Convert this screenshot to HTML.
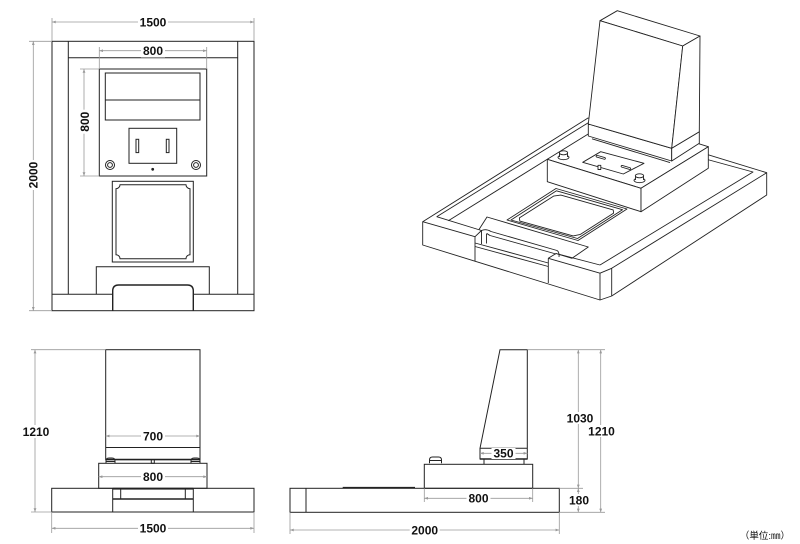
<!DOCTYPE html>
<html><head><meta charset="utf-8">
<style>
html,body{margin:0;padding:0;background:#fff;}
svg{display:block;}
text{font-family:"Liberation Sans",Arial,sans-serif;font-weight:bold;font-size:12px;fill:#111;}
.u{font-family:"Liberation Sans","Noto Sans CJK JP",sans-serif;font-weight:normal;font-size:9.5px;}
</style></head><body>
<svg width="800" height="544" viewBox="0 0 800 544" xmlns="http://www.w3.org/2000/svg">
<defs>
<marker id="a" viewBox="0 0 8 6" refX="8" refY="3" markerWidth="5" markerHeight="3.5" orient="auto-start-reverse"><path d="M0,0 L8,3 L0,6 z" fill="#999"/></marker>
</defs>
<rect width="800" height="544" fill="#fff"/>

<!-- ============ PLAN VIEW ============ -->
<g fill="none" stroke="#222" stroke-width="1">
<rect x="52" y="41.3" width="202" height="269.4"/>
<path d="M68.3,41.3V294.3 M237.7,41.3V294.3 M68.3,57.7H237.7 M52,294.3H112.7 M193.3,294.3H254 M96.3,294.3V266.7H209.3V294.3"/>
<path d="M112.7,310.7V291Q112.7,285 118.7,285H187.3Q193.3,285 193.3,291V310.7" stroke-width="1.4"/>
<rect x="99.3" y="69" width="107.4" height="107"/>
<rect x="105.3" y="73" width="94.7" height="47"/>
<path d="M105.3,100H200"/>
<rect x="129" y="128.3" width="47.7" height="35"/>
<rect x="136" y="139.3" width="2.7" height="13.3"/>
<rect x="166.3" y="139.3" width="2.7" height="13.3"/>
<circle cx="110" cy="165" r="4.5"/><circle cx="110" cy="165" r="2.4"/>
<circle cx="196" cy="165" r="4.5"/><circle cx="196" cy="165" r="2.4"/>
<rect x="112.3" y="181.3" width="81" height="80.7"/>
<path d="M120,184.7H186A4,4 0 0 0 190,188.7V254.7A4,4 0 0 0 186,258.7H120A4,4 0 0 0 116,254.7V188.7A4,4 0 0 0 120,184.7Z"/>
</g>
<circle cx="152.7" cy="169.3" r="1.4" fill="#222"/>

<!-- plan dims -->
<g fill="none" stroke="#9a9a9a" stroke-width="0.8">
<path d="M52,18V41 M254,18V41 M99.3,47V69 M206.7,47V69 M80,69H99.3 M80,176H99.3 M29,41.3H52 M29,310.7H52"/>
<line x1="52" y1="22" x2="254" y2="22" marker-start="url(#a)" marker-end="url(#a)"/>
<line x1="99.3" y1="50.7" x2="206.7" y2="50.7" marker-start="url(#a)" marker-end="url(#a)"/>
<line x1="84" y1="69" x2="84" y2="176" marker-start="url(#a)" marker-end="url(#a)"/>
<line x1="33.3" y1="41.3" x2="33.3" y2="310.7" marker-start="url(#a)" marker-end="url(#a)"/>
</g>
<rect x="138" y="15.5" width="30" height="13" fill="#fff"/><text x="153" y="26.3" text-anchor="middle">1500</text>
<rect x="141" y="44.5" width="24" height="13" fill="#fff"/><text x="153" y="55" text-anchor="middle">800</text>
<g transform="translate(84.5,121.7) rotate(-90)"><rect x="-12" y="-6" width="24" height="12" fill="#fff"/><text x="0" y="4.3" text-anchor="middle">800</text></g>
<g transform="translate(33.3,175) rotate(-90)"><rect x="-15" y="-6" width="30" height="12" fill="#fff"/><text x="0" y="4.3" text-anchor="middle">2000</text></g>

<!-- ============ FRONT VIEW ============ -->
<g fill="none" stroke="#222" stroke-width="1">
<rect x="105.7" y="349.7" width="94.3" height="110"/>
<path d="M105.7,447.5H200"/>
<path d="M105.7,459.5H200" stroke-width="1.6"/>
<rect x="98.7" y="463.3" width="108.3" height="25"/>
<rect x="51.7" y="488.3" width="202.3" height="23.7"/>
<path d="M112.7,488.3V512 M193.3,488.3V512 M120.7,488.3V499 M185.3,488.3V499"/>
<path d="M112.7,499H193.3" stroke-width="1.5"/>
<path d="M106,463.3V461Q106,458 109,458H112Q115,458 115,461V463.3 M105.5,461.5H115.5"/>
<path d="M191,463.3V461Q191,458 194,458H197Q200,458 200,461V463.3 M190.5,461.5H200.5"/>
<rect x="151.3" y="459.5" width="3" height="3.8"/>
</g>
<rect x="112.7" y="487.8" width="80.6" height="1.8" fill="#222"/>

<g fill="none" stroke="#9a9a9a" stroke-width="0.8">
<path d="M31,349.7H105.7 M31,512H51.7 M51.7,512V533 M254,512V533"/>
<line x1="35" y1="349.7" x2="35" y2="512" marker-start="url(#a)" marker-end="url(#a)"/>
<line x1="105.7" y1="436" x2="200" y2="436" marker-start="url(#a)" marker-end="url(#a)"/>
<line x1="98.7" y1="476.7" x2="207" y2="476.7" marker-start="url(#a)" marker-end="url(#a)"/>
<line x1="51.7" y1="528.3" x2="254" y2="528.3" marker-start="url(#a)" marker-end="url(#a)"/>
</g>
<rect x="21" y="425" width="30" height="13" fill="#fff"/><text x="36" y="436" text-anchor="middle">1210</text>
<rect x="141" y="430" width="24" height="12" fill="#fff"/><text x="153" y="440.3" text-anchor="middle">700</text>
<rect x="141" y="470.5" width="24" height="12" fill="#fff"/><text x="153" y="481" text-anchor="middle">800</text>
<rect x="138" y="522" width="30" height="12" fill="#fff"/><text x="153" y="532.6" text-anchor="middle">1500</text>

<!-- ============ SIDE VIEW ============ -->
<g fill="none" stroke="#222" stroke-width="1">
<rect x="290" y="488.3" width="269.3" height="24"/>
<path d="M306,488.3V512.3"/>
<path d="M342.7,487.6H415" stroke-width="1.4"/>
<rect x="424.3" y="464.3" width="108.4" height="24"/>
<path d="M500,349.7H527.3V459H480V448.3L500,349.7Z"/>
<path d="M480,448.3H527.3"/>
<path d="M480,459H527.3" stroke-width="1.5"/>
<path d="M484,459V464.3 M524,459V464.3"/>
<path d="M429.5,463.3V460Q429.5,457 432.5,457H438.5Q441.5,457 441.5,460V463.3 M429,460.5H442"/>
</g>
<g fill="none" stroke="#9a9a9a" stroke-width="0.8">
<path d="M527.3,349.7H605 M559.3,488.3H583 M559.3,512.3H605 M424.3,488.3V502 M532.7,488.3V502 M290,512.3V534 M559.3,512.3V534"/>
<line x1="480" y1="453.3" x2="527.3" y2="453.3" marker-start="url(#a)" marker-end="url(#a)"/>
<line x1="424.3" y1="498.3" x2="532.7" y2="498.3" marker-start="url(#a)" marker-end="url(#a)"/>
<line x1="290" y1="530" x2="559.3" y2="530" marker-start="url(#a)" marker-end="url(#a)"/>
<line x1="578.3" y1="349.7" x2="578.3" y2="488.3" marker-start="url(#a)" marker-end="url(#a)"/>
<line x1="578.3" y1="488.3" x2="578.3" y2="512.3" marker-start="url(#a)" marker-end="url(#a)"/>
<line x1="600.7" y1="349.7" x2="600.7" y2="512.3" marker-start="url(#a)" marker-end="url(#a)"/>
</g>
<rect x="491.5" y="448" width="24" height="11" fill="#fff"/><text x="503.5" y="457.6" text-anchor="middle">350</text>
<rect x="466.5" y="492.5" width="24" height="12" fill="#fff"/><text x="478.5" y="502.6" text-anchor="middle">800</text>
<rect x="409.7" y="524" width="30" height="12" fill="#fff"/><text x="424.7" y="534.3" text-anchor="middle">2000</text>
<rect x="566" y="412" width="28" height="12" fill="#fff"/><text x="580" y="422.6" text-anchor="middle">1030</text>
<rect x="587" y="425" width="29" height="12" fill="#fff"/><text x="601.5" y="435.5" text-anchor="middle">1210</text>
<rect x="567" y="494" width="24" height="12" fill="#fff"/><text x="579" y="504.3" text-anchor="middle">180</text>

<text class="u" x="765" y="539" text-anchor="middle">（単位:㎜）</text>

<!-- ============ ISOMETRIC VIEW ============ -->
<g fill="none" stroke="#222" stroke-width="0.9" stroke-linejoin="round">
<!-- slab outline -->
<path d="M422.7,221.7L588,118L766.7,172.7V195L611.7,296L600,300L422.7,245Z" fill="#fff"/>
<!-- left rail -->
<path d="M436.7,216.7L588.3,122.7"/>
<path d="M448.3,220.7L547.3,159.3"/>
<!-- back rail inner + right rail inner -->
<path d="M596,129L753,172L600,265"/>
<!-- right rail outer top, joint -->
<path d="M766.7,172.7L611.7,268.3V296"/>
<!-- right block -->
<path d="M611.7,268.3L600,273.2V300 M548.3,258.3L600,273.2 M548.3,258.3V283 M548.3,258.3L556,253.5L600,265"/>
<!-- left block -->
<path d="M422.7,221.7L475,236.7V261.5 M436.7,216.7L481.5,230.5L475,236.7 M481.5,230.5V244"/>
<!-- notch -->
<path d="M481.5,230.5Q486,228.5 491,231.5L557,250.5Q559.5,252 559,257 M487,233.5Q487.5,234 490,235.5L556,254 M486.5,233.5V243.5"/>
<path d="M475,243L548.3,263 M475,246.5L548.3,266.5"/>
<!-- step plate -->
<path d="M479,229.5L487,217L588.3,247L572,258.3L556,253.5"/>
<!-- square plate -->
<path d="M507,220L556,188.5L627,209L578,240.5Z"/>
<path d="M511,220L556.5,190.8L622.5,209.7L577.5,238.5Z"/>
<path d="M519.4,217.9L553.6,196.1L560.8,195.1L613.2,209.9L613.6,213.1L580.4,234.4L573.2,235.9L519.8,221.1Z"/>
<!-- base box -->
<path d="M547.3,159.3L614.6,117.7L708.3,146.7L641,188.3Z" fill="#fff"/>
<path d="M547.3,159.3L641,188.3V211.7L547.3,181.7Z" fill="#fff"/>
<path d="M641,188.3L708.3,146.7V168.3L641,211.7Z" fill="#fff"/>
<path d="M582.7,162.3L600.7,151.7L644,163.3L623.3,174Z"/>
<path d="M597,156.2L604.5,158.4 M622,166.3L629.8,168.6" stroke-width="2.6" stroke-linecap="round"/>
<path d="M597,156.2L604.5,158.4 M622,166.3L629.8,168.6" stroke="#fff" stroke-width="0.9" stroke-linecap="round"/>
<rect x="598" y="165.3" width="2.8" height="4.2" fill="#fff"/>
<!-- caps -->
<ellipse cx="563.5" cy="157.3" rx="5.5" ry="2.4" fill="#fff"/>
<path d="M559.5,157V153H567.5V157" fill="#fff"/>
<ellipse cx="563.5" cy="152.8" rx="4.2" ry="2" fill="#fff"/>
<ellipse cx="639.5" cy="180.3" rx="5.5" ry="2.4" fill="#fff"/>
<path d="M635.5,180V176H643.5V180" fill="#fff"/>
<ellipse cx="639.5" cy="175.8" rx="4.2" ry="2" fill="#fff"/>
<!-- tombstone -->
<path d="M588.3,124L671.7,148.3V161L588.3,136Z" fill="#fff"/>
<path d="M671.7,148.3L699.3,131.7V143.3L671.7,161Z" fill="#fff"/>
<path d="M592,138.8L670,162.6"/>
<path d="M600,20.7L617.3,10.7L700,36L682.7,46Z" fill="#fff"/>
<path d="M600,20.7L682.7,46L671.7,148.3L588.3,124Z" fill="#fff"/>
<path d="M682.7,46L700,36L699.3,131.7L671.7,148.3Z" fill="#fff"/>
</g>
</svg>
</body></html>
